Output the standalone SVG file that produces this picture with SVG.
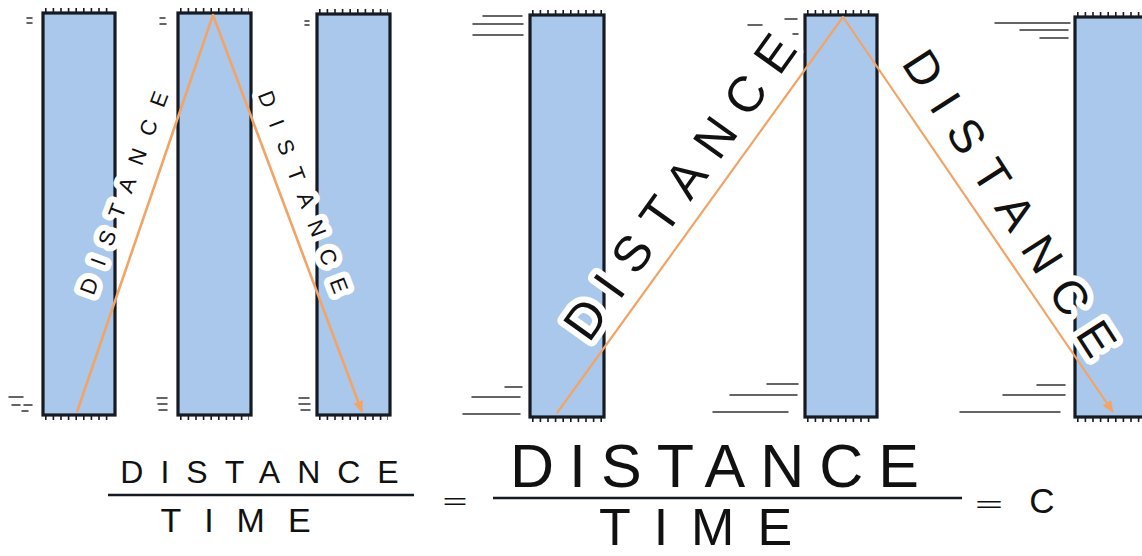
<svg xmlns="http://www.w3.org/2000/svg" width="1142" height="556" viewBox="0 0 1142 556">
<defs>
<style>
.pillar{fill:#a9c8eb;stroke:#161a22;stroke-width:3.2}
.tick{stroke:#161a22;stroke-width:4;stroke-dasharray:1.6 6;fill:none}
.motion{stroke:#333;stroke-width:1.5;fill:none;stroke-linecap:round}
.ray{fill:none;stroke:#f2a467;stroke-linejoin:round}
.lbl{font-family:"Liberation Sans",Arial,sans-serif;fill:#111;text-anchor:middle}
.halo{stroke:#fff;stroke-width:12;stroke-linejoin:round;paint-order:stroke;dominant-baseline:central}
.bar{stroke:#161a22;stroke-width:2.5;fill:none}
</style>
<marker id="arrow" viewBox="0 0 12 10" refX="11" refY="5" markerWidth="12" markerHeight="10" markerUnits="userSpaceOnUse" orient="auto">
<path d="M0,0 L12,5 L0,10 z" fill="#f2a467"/>
</marker>
</defs>
<rect width="1142" height="556" fill="#fff"/>

<g id="pillar1"><rect class="pillar" x="43" y="13" width="72" height="402"/><line class="tick" x1="45" y1="10" x2="113" y2="10"/><line class="tick" x1="45" y1="418" x2="113" y2="418"/></g>
<g id="pillar2"><rect class="pillar" x="178" y="13" width="73" height="402"/><line class="tick" x1="180" y1="10" x2="249" y2="10"/><line class="tick" x1="180" y1="418" x2="249" y2="418"/></g>
<g id="pillar3"><rect class="pillar" x="317" y="14" width="73" height="401"/><line class="tick" x1="319" y1="11" x2="388" y2="11"/><line class="tick" x1="319" y1="418" x2="388" y2="418"/></g>
<g id="pillar4"><rect class="pillar" x="530" y="15" width="74" height="402"/><line class="tick" x1="532" y1="12" x2="602" y2="12"/><line class="tick" x1="532" y1="420" x2="602" y2="420"/></g>
<g id="pillar5"><rect class="pillar" x="805" y="15" width="72" height="402"/><line class="tick" x1="807" y1="12" x2="875" y2="12"/><line class="tick" x1="807" y1="420" x2="875" y2="420"/></g>
<g id="pillar6"><rect class="pillar" x="1075" y="17" width="90" height="400"/><line class="tick" x1="1077" y1="14" x2="1142" y2="14"/><line class="tick" x1="1077" y1="420" x2="1142" y2="420"/></g>

<g id="motion-lines">
<path class="motion" d="M27,18h5M27,23h5M9,397h14M12,405h8M24,405h8M22,411h6"/>
<path class="motion" d="M160,18h5M160,24h6M157,398h10M158,404h9M159,410h8"/>
<path class="motion" d="M305,21h4M305,25h4M299,398h10M299,404h11M301,410h9"/>
<path class="motion" d="M483,16h39M473,24h50M473,35h50M505,387h17M472,397h48M463,414h57"/>
<path class="motion" d="M748,25h14M785,19h12M793,34h5M767,384h31M730,395h67M713,412h75"/>
<path class="motion" d="M995,23h75M1020,30h48M1040,38h28M1037,385h28M1003,395h62M960,412h100"/>
</g>

<g id="labels-path">
<text class="lbl halo" font-size="22" letter-spacing="15" transform="translate(124,193) rotate(-69.5)" x="7.5">DISTANCE</text>
<text class="lbl halo" font-size="22" letter-spacing="15" transform="translate(303,192) rotate(69)" x="7.5">DISTANCE</text>
<text class="lbl halo" font-size="50" letter-spacing="16" transform="translate(680,187) rotate(-54.5)" x="8">DISTANCE</text>
<text class="lbl halo" font-size="47" letter-spacing="17" transform="translate(1010,203) rotate(57.3)" x="8.5">DISTANCE</text>
</g>

<g id="connectors">
<polyline class="ray" stroke-width="2.6" points="77,412 213,15 362,412" marker-end="url(#arrow)"/>
<polyline class="ray" stroke-width="2.2" points="557,413 843,17 1113,412" marker-end="url(#arrow)"/>
</g>

<g id="equation">
<text class="lbl" font-size="32" letter-spacing="17" x="268" y="483">DISTANCE</text>
<line class="bar" x1="108" y1="495" x2="414" y2="495"/>
<text class="lbl" font-size="34" letter-spacing="23" x="247" y="532">TIME</text>
<text class="lbl" font-size="22" x="455" y="509" textLength="25" lengthAdjust="spacingAndGlyphs">=</text>
<text class="lbl" font-size="61" letter-spacing="15" x="722" y="487">DISTANCE</text>
<line class="bar" x1="493" y1="498" x2="962" y2="498"/>
<text class="lbl" font-size="52" letter-spacing="23" x="707" y="545">TIME</text>
<text class="lbl" font-size="22" x="989" y="512" textLength="28" lengthAdjust="spacingAndGlyphs">=</text>
<text class="lbl" font-size="35" x="1042" y="513">C</text>
</g>
</svg>
